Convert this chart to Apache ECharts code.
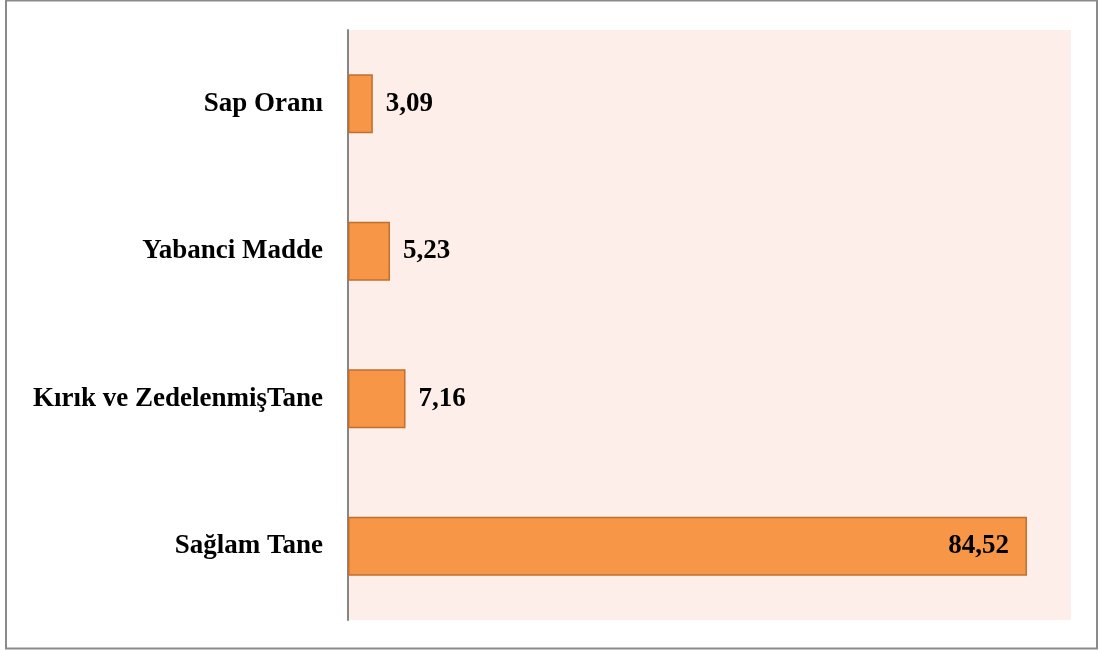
<!DOCTYPE html>
<html>
<head>
<meta charset="utf-8">
<script src="https://cdn.jsdelivr.net/npm/echarts@6/dist/echarts.min.js"></script>
<style>
  html, body { margin: 0; padding: 0; background: #ffffff; }
  #chart { width: 1102px; height: 650px; }
</style>
</head>
<body>
<div id="chart"></div>
<script>
// Kategoriler (alttan üste doğru) ve yüzde değerleri
const categories = ['Sağlam Tane', 'Kırık ve ZedelenmişTane', 'Yabanci Madde', 'Sap Oranı'];
const values = [84.52, 7.16, 5.23, 3.09];
// Değer etiketinin çubuğun içinde mi dışında mı duracağı
const labelInside = [true, false, false, false];

const serif = '"Liberation Serif", "Times New Roman", "DejaVu Serif", serif';

const chart = echarts.init(document.getElementById('chart'), null, { renderer: 'canvas' });

chart.setOption({
  animation: false,
  backgroundColor: '#ffffff',
  graphic: [{
    type: 'rect',
    shape: { x: 6, y: 0.5, width: 1091, height: 648 },
    style: { fill: 'none', stroke: '#8a8a8a', lineWidth: 2 },
    silent: true
  }],
  grid: {
    left: 348, right: 31, top: 30, bottom: 30,
    show: true,
    backgroundColor: '#FDEEE9',
    borderWidth: 0
  },
  xAxis: {
    type: 'value',
    min: 0, max: 90,
    show: false
  },
  yAxis: {
    type: 'category',
    data: categories,
    axisLine: { show: true, lineStyle: { color: '#868686', width: 2 } },
    axisTick: { show: false },
    splitLine: { show: false },
    axisLabel: {
      margin: 25,
      color: '#000000',
      fontFamily: serif,
      fontWeight: 'bold',
      fontSize: 27
    }
  },
  series: [{
    type: 'bar',
    barWidth: 59,
    data: values.map((v, i) => ({
      value: v,
      label: labelInside[i]
        ? { position: 'insideRight', distance: 18 }
        : { position: 'right', distance: 13 }
    })),
    itemStyle: {
      color: '#F79646',
      borderColor: '#C0702E',
      borderWidth: 1.5
    },
    label: {
      show: true,
      color: '#000000',
      fontFamily: serif,
      fontWeight: 'bold',
      fontSize: 27,
      formatter: p => p.value.toFixed(2).replace('.', ',')
    }
  }]
});
</script>
</body>
</html>
